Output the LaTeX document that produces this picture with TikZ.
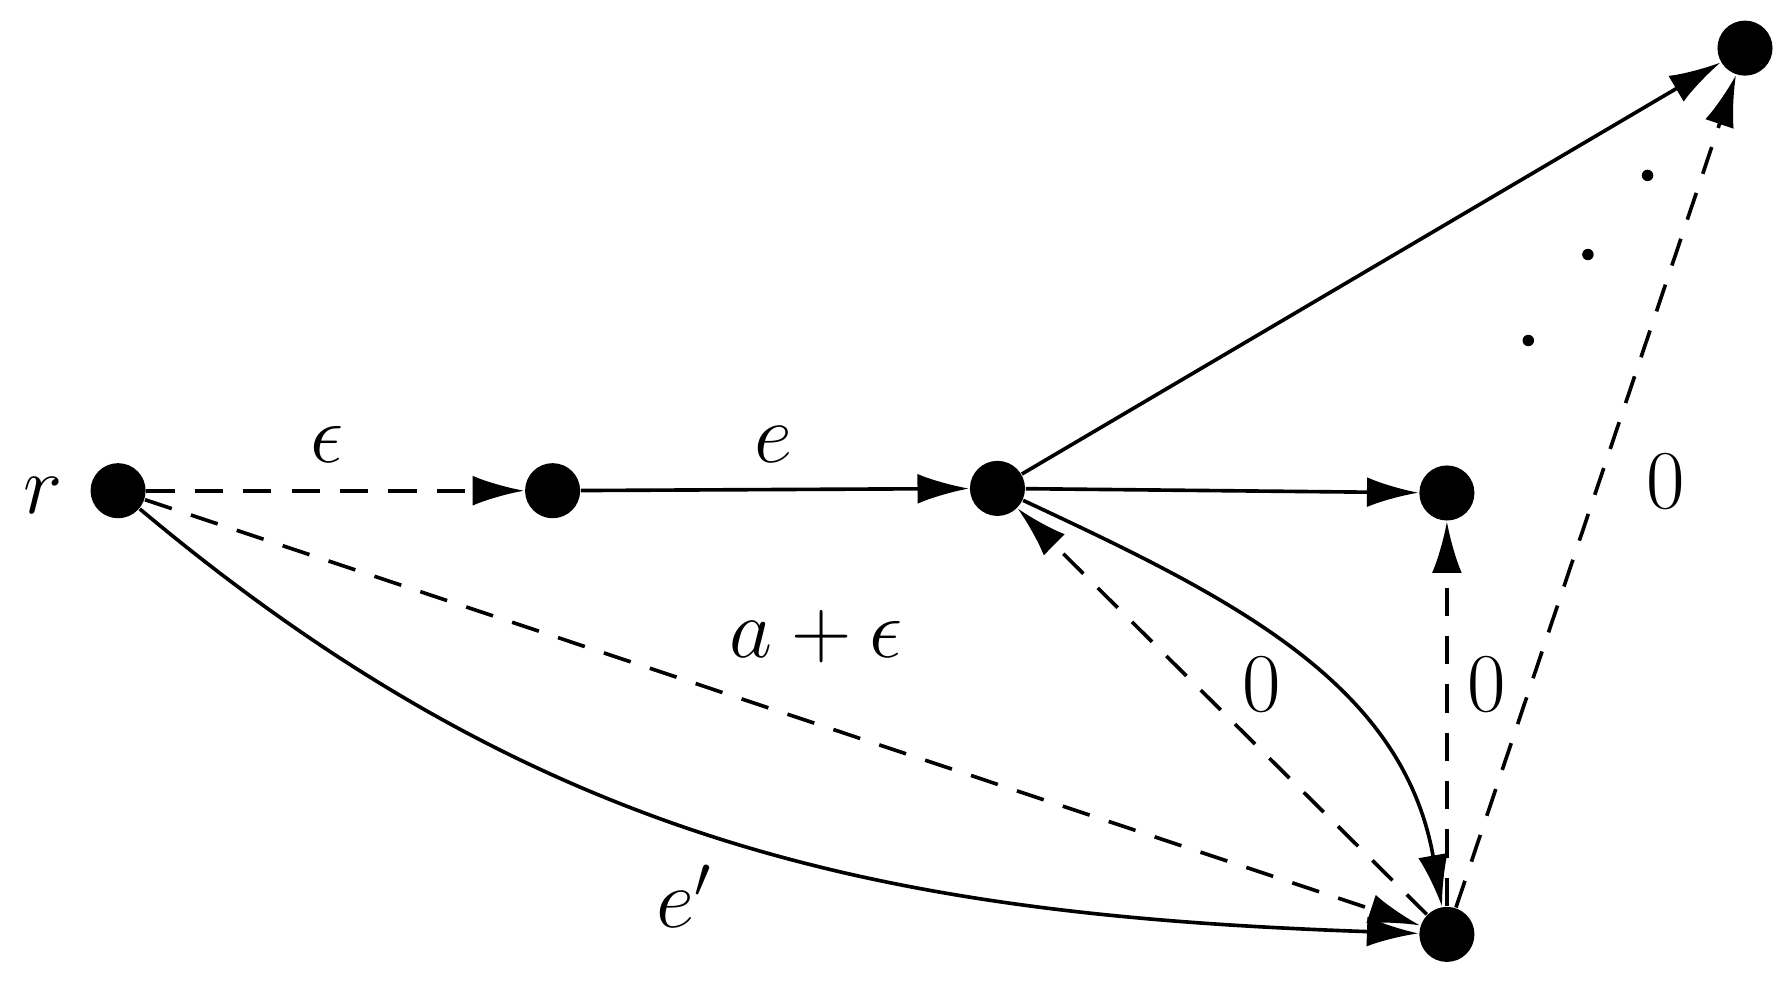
\documentclass[tikz,border=0pt]{standalone}
\usetikzlibrary{arrows.meta}
\begin{document}
\begin{tikzpicture}[x=0.01cm,y=-0.01cm,
  dot/.style={circle,fill=black,inner sep=0pt,minimum size=0.48cm},
  tip/.style={-{Latex[length=0.45cm,width=0.26cm]}},
  edge/.style={tip,line width=0.9pt},
  dedge/.style={tip,line width=0.9pt,dash pattern=on 7pt off 5pt},
  lbl/.style={font=\fontsize{22}{26}\selectfont}]
\useasboundingbox (0,0) rectangle (1563,865);
\node[dot] (r) at (103,428) {};
\node[dot] (A) at (482,428) {};
\node[dot] (B) at (870,426) {};
\node[dot] (C) at (1262,430) {};
\node[dot] (D) at (1522,42) {};
\node[dot] (E) at (1262,815) {};
\node[lbl] (rl) at (38,432) {$r$};
\draw[dedge] (r) -- (A);
\draw[edge] (A) -- (B);
\draw[edge] (B) -- (C);
\draw[edge] (B) -- (D);
\draw[edge] (B) to[out=-25,in=100] (E);
\draw[dedge] (E) -- (B);
\draw[dedge] (E) -- (C);
\draw[dedge] (E) -- (D);
\draw[dedge] (r) -- (E);
\draw[edge] (r) to[out=-40,in=178] (E);
\node[lbl] (l1) at (285,388) {$\epsilon$};
\node[lbl] (l2) at (675,388) {$e$};
\node[lbl] (l3) at (712,555) {$a+\epsilon$};
\node[lbl] (l4) at (597,782) {$e'$};
\node[lbl] (l5) at (1100,597) {$0$};
\node[lbl] (l6) at (1297,597) {$0$};
\node[lbl] (l7) at (1453,420) {$0$};
\foreach \p in {(1333,297),(1385,222),(1437,153)} \fill \p circle (0.05cm);
\end{tikzpicture}
\end{document}
